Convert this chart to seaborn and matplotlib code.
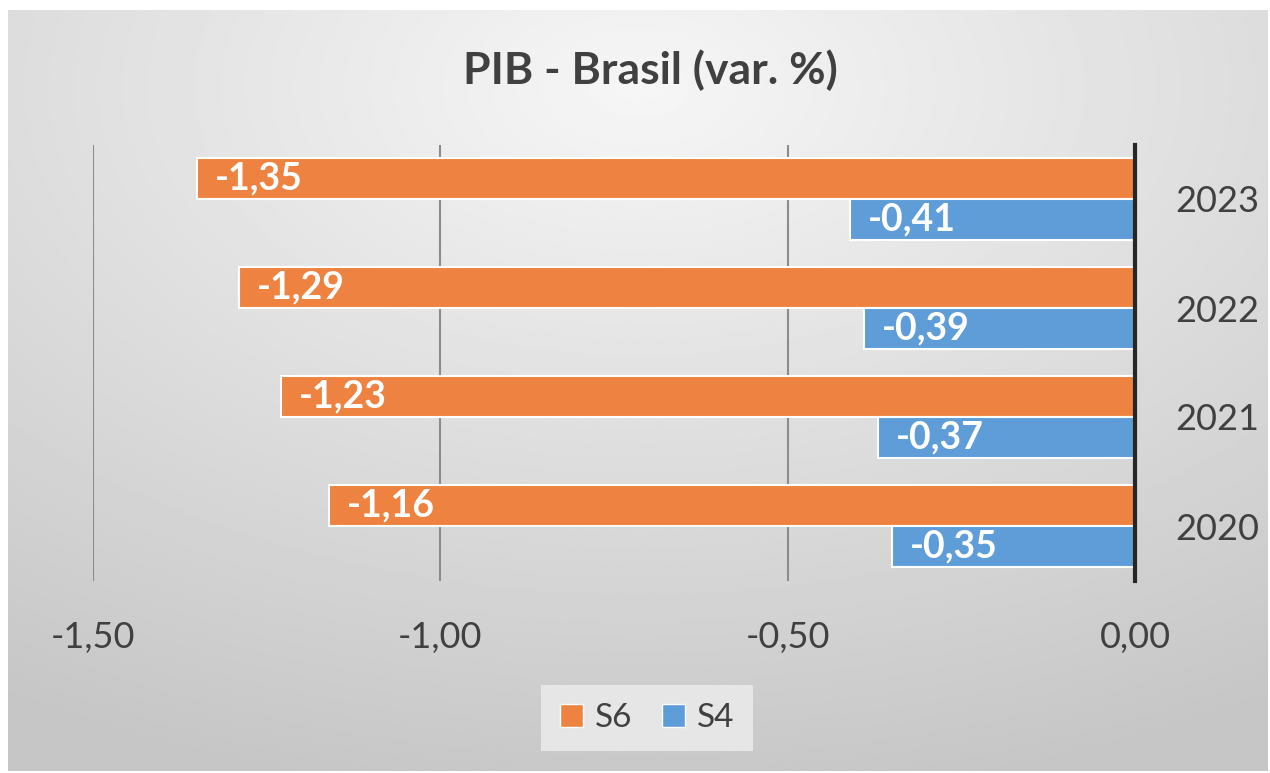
import matplotlib
matplotlib.use("Agg")
import matplotlib.pyplot as plt
import numpy as np
import pandas as pd
import seaborn as sns
from matplotlib.patches import Patch

# ── data ──────────────────────────────────────────────────────────
years = ["2023", "2022", "2021", "2020"]
s6_values = [-1.35, -1.29, -1.23, -1.16]
s4_values = [-0.41, -0.39, -0.37, -0.35]
series_names = ["S6", "S4"]
x_ticks = [-1.50, -1.00, -0.50, 0.00]
title = "PIB - Brasil (var. %)"

colors = {"S6": "#EE8341", "S4": "#5E9DD8"}
text_color = "#404040"


def fmt(v):
    return f"{v:.2f}".replace(".", ",")


df = pd.DataFrame({
    "ano": years * 2,
    "serie": ["S6"] * len(years) + ["S4"] * len(years),
    "valor": s6_values + s4_values,
})

sns.set_theme(style="white")
plt.rcParams["font.family"] = ["Lato", "DejaVu Sans"]

W, H = 1270, 773
fig = plt.figure(figsize=(W / 100, H / 100), dpi=100)

# chart background: soft radial gradient, bright near the title
bg = fig.add_axes([8 / W, 2 / H, 1260 / W, 761 / H])
gh, gw = 300, 500
yy, xx = np.mgrid[0:gh, 0:gw]
r = np.sqrt(((xx - gw * 0.5) / gw) ** 2 + ((yy - gh * 0.1) / gh) ** 2)
shade = 0.965 - 0.19 * np.clip(r / 0.95, 0, 1)
bg.imshow(shade, cmap="gray", vmin=0, vmax=1, aspect="auto",
          extent=[0, 1, 0, 1], origin="upper", interpolation="bilinear")
bg.axis("off")

# plot area
ax = fig.add_axes([93 / W, 1 - 580.5 / H, 1042 / W, 436 / H])
ax.patch.set_alpha(0)

sns.barplot(data=df, y="ano", x="valor", hue="serie", order=years,
            hue_order=series_names, palette=colors, saturation=1,
            orient="h", width=0.75, edgecolor="white", linewidth=1.5,
            ax=ax, legend=False)

for container, vals in zip(ax.containers, [s6_values, s4_values]):
    for bar, v in zip(container, vals):
        left = min(bar.get_x(), bar.get_x() + bar.get_width())
        ax.annotate(fmt(v), xy=(left, bar.get_y() + bar.get_height() / 2),
                    xytext=(13, 0), textcoords="offset points",
                    ha="left", va="center", color="white",
                    fontsize=27, fontweight="bold")

ax.set_xlim(-1.5, 0.0)
ax.set_ylim(len(years) - 0.5, -0.5)
ax.set_xticks(x_ticks)
ax.set_xticklabels([fmt(v) for v in x_ticks])
ax.set_xlabel("")
ax.set_ylabel("")

ax.yaxis.tick_right()
ax.tick_params(axis="y", length=0, pad=29, labelsize=26, labelcolor=text_color)
ax.tick_params(axis="x", length=0, pad=29, labelsize=26, labelcolor=text_color)

ax.grid(axis="x", color="#8C8C8C", linewidth=1.5)
ax.grid(axis="y", visible=False)
ax.set_axisbelow(True)
for side in ["top", "left", "bottom"]:
    ax.spines[side].set_visible(False)
ax.spines["right"].set_visible(True)
ax.spines["right"].set_color("#262626")
ax.spines["right"].set_linewidth(3)

fig.text(650 / W, 1 - 70 / H, title, ha="center", va="center",
         fontsize=32, fontweight="bold", color=text_color)

handles = [Patch(facecolor=colors[s], edgecolor="white") for s in series_names]
leg = fig.legend(handles, series_names, loc="center",
                 bbox_to_anchor=(647 / W, 1 - 718 / H), ncol=2, frameon=True,
                 fancybox=False, framealpha=1, facecolor="#E6E6E6",
                 edgecolor="none", fontsize=24, handlelength=0.7,
                 handleheight=0.7, handletextpad=0.35, columnspacing=0.9,
                 borderpad=0.55)
for t in leg.get_texts():
    t.set_color(text_color)

fig.savefig("out.png", dpi=100)
plt.close(fig)
